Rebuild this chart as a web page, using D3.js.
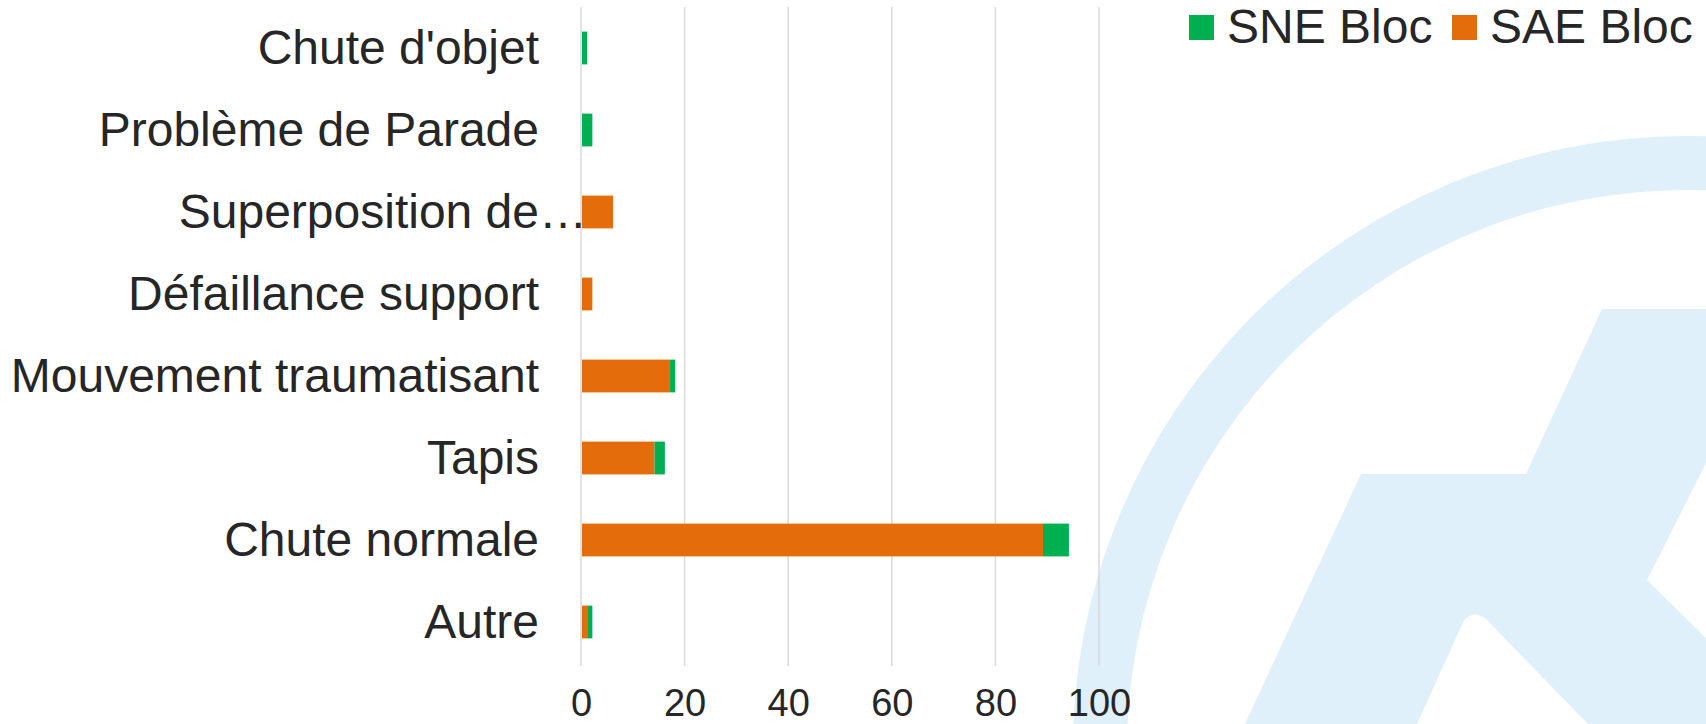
<!DOCTYPE html>
<html>
<head>
<meta charset="utf-8">
<script src="https://cdn.jsdelivr.net/npm/d3@7"></script>
<style>
  body { margin: 0; background: #fff; }
  svg { display: block; font-family: "Liberation Sans", Arial, sans-serif; }
</style>
</head>
<body>
<svg id="chart" width="1706" height="724"></svg>
<script>
// Accidents par cause -- SAE / SNE bloc

var categories = ["Chute d'objet", "Problème de Parade", "Superposition de…", "Défaillance support",
                  "Mouvement traumatisant", "Tapis", "Chute normale", "Autre"];
var saeBloc = [0, 0, 6, 2, 17, 14, 89, 1];
var sneBloc = [1, 2, 0, 0, 1, 2, 5, 1];
var xTicks = [0, 20, 40, 60, 80, 100];
var seriesNames = ["SNE Bloc", "SAE Bloc"];

var green = "#00b050", orange = "#e46c0a", ink = "#262626", grid = "#d9d9d9";

var svg = d3.select("#chart");

///////////////////////////////////////////////////////////////////////////////
// Background watermark (logo)

var wm = svg.append("g").attr("fill", "#dff0fa");

wm.append("path")
  .attr("transform", "translate(1687,750)")
  .attr("d", d3.arc().innerRadius(560).outerRadius(614).startAngle(0).endAngle(2 * Math.PI)());

wm.append("path")
  .attr("d", "M1602,309 L1706,309 L1706,463 L1647,580 L1706,638 L1706,724 L1588,724 " +
             "L1485,618 Q1474,610 1464,620 L1417,724 L1245,724 L1361,474 L1526,474 Z");

///////////////////////////////////////////////////////////////////////////////
// Scales

var x = d3.scaleLinear().domain([0, 100]).range([581, 1099]);
var y = d3.scaleBand().domain(categories).range([7, 663]).paddingInner(0.6).paddingOuter(0.3);

// Gridlines
svg.append("g").selectAll("line")
  .data(xTicks)
  .join("line")
  .attr("x1", function (d) { return x(d); })
  .attr("x2", function (d) { return x(d); })
  .attr("y1", 7)
  .attr("y2", 666)
  .attr("stroke", grid)
  .attr("stroke-width", 1.5);

///////////////////////////////////////////////////////////////////////////////
// Stacked bars

var rows = categories.map(function (c, i) {
  return { cat: c, sae: saeBloc[i], sne: sneBloc[i] };
});
var stacked = d3.stack().keys(["sae", "sne"])(rows);
var colors = { sae: orange, sne: green };

svg.append("g").selectAll("g")
  .data(stacked)
  .join("g")
  .attr("fill", function (s) { return colors[s.key]; })
  .selectAll("rect")
  .data(function (s) { return s; })
  .join("rect")
  .attr("x", function (d) { return x(d[0]) + 1; })
  .attr("y", function (d) { return y(d.data.cat); })
  .attr("width", function (d) { return Math.max(0, x(d[1]) - x(d[0])); })
  .attr("height", y.bandwidth());

///////////////////////////////////////////////////////////////////////////////
// Axes

var yAxis = svg.append("g")
  .attr("transform", "translate(539,0)")
  .call(d3.axisLeft(y).tickSize(0).tickPadding(0));
yAxis.select(".domain").remove();
yAxis.selectAll("text")
  .attr("fill", ink)
  .attr("font-size", 48)
  .attr("dy", "0.34em")
  // truncated label: the ellipsis hangs past the label column, as in the original
  .attr("dx", function (d) { return /…$/.test(d) ? "1em" : 0; });

var xAxis = svg.append("g")
  .attr("transform", "translate(0,716)")
  .call(d3.axisBottom(x).tickValues(xTicks).tickSize(0).tickPadding(0));
xAxis.select(".domain").remove();
xAxis.selectAll("text")
  .attr("fill", ink)
  .attr("font-size", 38)
  .attr("dy", 0);

///////////////////////////////////////////////////////////////////////////////
// Legend

var legendX = [1189, 1452];
var legend = svg.append("g").selectAll("g")
  .data(seriesNames)
  .join("g")
  .attr("transform", function (d, i) { return "translate(" + legendX[i] + ",0)"; });

legend.append("rect")
  .attr("y", 15)
  .attr("width", 25)
  .attr("height", 25)
  .attr("fill", function (d, i) { return i === 0 ? green : orange; });

legend.append("text")
  .attr("x", 38)
  .attr("y", 43)
  .attr("font-size", 48)
  .attr("fill", ink)
  .text(function (d) { return d; });
</script>
</body>
</html>
